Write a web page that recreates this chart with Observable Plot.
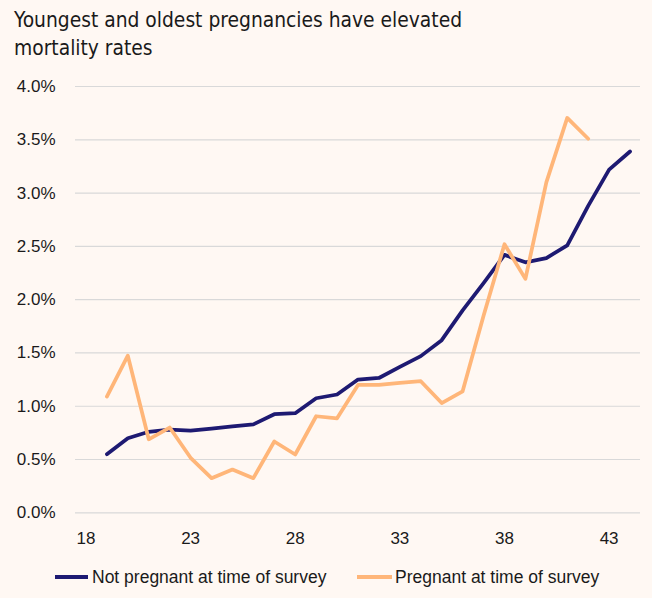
<!DOCTYPE html>
<html><head><meta charset="utf-8">
<script src="https://cdn.jsdelivr.net/npm/d3@7"></script>
<script src="https://cdn.jsdelivr.net/npm/@observablehq/plot@0.6"></script>
<style>
html,body{margin:0;padding:0;background:#fff8f3;}
#wrap{position:relative;width:652px;height:598px;overflow:hidden;background:#fff8f3;font-family:"Liberation Sans",Arial,sans-serif;color:#1a1a1a;}
#title{position:absolute;left:14px;top:6px;font-family:"DejaVu Sans Condensed","Liberation Sans",sans-serif;font-size:22px;line-height:28px;color:#1a1a1a;white-space:nowrap;transform:scaleX(0.945);transform-origin:0 0;}
#chart{position:absolute;left:0;top:0;}
.sw{position:absolute;height:4px;}
.lt{position:absolute;font-size:17.5px;line-height:20px;white-space:nowrap;}
</style>
</head><body>
<div id="wrap">
  <div id="chart"></div>
  <div id="title">Youngest and oldest pregnancies have elevated<br>mortality rates</div>
  <div id="legend"></div>
</div>
<script>
// Age (years)
const ages = [19,20,21,22,23,24,25,26,27,28,29,30,31,32,33,34,35,36,37,38,39,40,41,42,43,44];
// Mortality rate (%) – not pregnant at time of survey
const notPregnant = [0.55,0.70,0.76,0.78,0.77,0.79,0.81,0.83,0.925,0.935,1.075,1.11,1.25,1.265,1.37,1.47,1.62,1.90,2.155,2.42,2.35,2.39,2.51,2.88,3.22,3.39];
// Mortality rate (%) – pregnant at time of survey (ages 19–42)
const pregnant = [1.09,1.475,0.69,0.80,0.516,0.325,0.406,0.325,0.669,0.547,0.906,0.887,1.20,1.20,1.22,1.235,1.03,1.14,1.85,2.52,2.195,3.10,3.705,3.51];
const xTicks = [18,23,28,33,38,43];
const yTicks = [0,0.5,1,1.5,2,2.5,3,3.5,4];
const seriesNames = ["Not pregnant at time of survey","Pregnant at time of survey"];
const seriesColors = ["#1e1a72","#ffb679"];

const notData = ages.map((a,i)=>({age:a, v:notPregnant[i]}));
const pregData = pregnant.map((v,i)=>({age:ages[i], v}));

const plot = Plot.plot({
  width:652, height:560,
  marginTop:86, marginBottom:47.7, marginLeft:75, marginRight:12,
  style:{background:"transparent", fontFamily:"Liberation Sans, Arial, sans-serif", fontSize:"17px", color:"#1a1a1a", overflow:"visible"},
  x:{domain:[17.5,44.5], label:null},
  y:{domain:[0,4], label:null},
  marks:[
    Plot.gridY(yTicks,{stroke:"#d9d9d9", strokeOpacity:1, strokeWidth:1.2}),
    Plot.axisY({ticks:yTicks, tickFormat:d=>d.toFixed(1)+"%", tickSize:0, tickPadding:20, label:null}),
    Plot.axisX({ticks:xTicks, tickFormat:d=>String(d), tickSize:0, tickPadding:19, label:null}),
    Plot.line(notData,{x:"age", y:"v", stroke:seriesColors[0], strokeWidth:3.75, strokeLinejoin:"round", strokeLinecap:"round"}),
    Plot.line(pregData,{x:"age", y:"v", stroke:seriesColors[1], strokeWidth:3.75, strokeLinejoin:"round", strokeLinecap:"round"})
  ]
});
document.getElementById("chart").appendChild(plot);

const legend = document.getElementById("legend");
const legendPos = [{sx:55, sw:33, tx:92},{sx:357, sw:35, tx:395}];
seriesNames.forEach((name,i)=>{
  const s = document.createElement("div");
  s.className="sw";
  s.style.left = legendPos[i].sx+"px";
  s.style.width = legendPos[i].sw+"px";
  s.style.top = "575px";
  s.style.background = seriesColors[i];
  legend.appendChild(s);
  const t = document.createElement("div");
  t.className="lt";
  t.style.left = legendPos[i].tx+"px";
  t.style.top = "567px";
  t.textContent = name;
  legend.appendChild(t);
});
</script>
</body></html>
